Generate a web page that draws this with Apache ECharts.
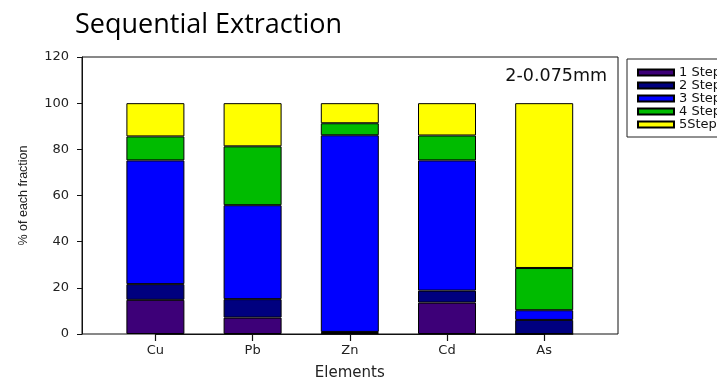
<!DOCTYPE html>
<html>
<head>
<meta charset="utf-8">
<script src="https://cdn.jsdelivr.net/npm/echarts@6/dist/echarts.min.js"></script>
<style>html,body{margin:0;padding:0;background:#fff}#c{width:717px;height:379px}</style>
</head>
<body>
<div id="c"></div>
<script>
var categories = ['Cu', 'Pb', 'Zn', 'Cd', 'As'];
var stepNames = ['1 Step', '2 Step', '3 Step', '4 Step', '5Step'];
var step1 = [14.8, 7.1, 0.5, 13.6, 0];
var step2 = [6.8, 8.0, 0.4, 5.2, 6.1];
var step3 = [53.6, 40.7, 85.2, 56.4, 4.2];
var step4 = [10.4, 25.5, 5.2, 10.8, 18.3];
var step5 = [14.4, 18.7, 8.7, 14.0, 71.4];
var yTicks = [0, 20, 40, 60, 80, 100, 120];
var colors = ['#3d0078', '#00007f', '#0000ff', '#00bb00', '#ffff00'];

var stepData = [step1, step2, step3, step4, step5];
var series = stepData.map(function (d, i) {
  return {
    name: stepNames[i], type: 'bar', stack: 'all', xAxisIndex: 1, yAxisIndex: 1,
    barWidth: 58, data: d,
    itemStyle: { color: colors[i], borderColor: '#000', borderWidth: 1 }
  };
});

var chart = echarts.init(document.getElementById('c'));
chart.setOption({
  animation: false,
  title: [
    { text: 'Sequential Extraction', left: 70, top: 7,
      textStyle: { fontFamily: 'Open Sans', fontSize: 27, fontWeight: 'normal', color: '#000' } },
    { text: '2-0.075mm', right: 105, top: 62,
      textStyle: { fontFamily: 'DejaVu Sans', fontSize: 17.5, fontWeight: 'normal', color: '#111' } }
  ],
  legend: {
    orient: 'vertical', left: 627, top: 59,
    padding: [7, 40, 6, 10], itemGap: 0,
    itemWidth: 36, itemHeight: 6,
    borderColor: '#222', borderWidth: 1,
    icon: 'rect',
    textStyle: { fontFamily: 'DejaVu Sans', fontSize: 13, color: '#111', lineHeight: 12 },
    data: stepNames
  },
  grid: [
    { left: 82, right: 99, top: 57, bottom: 45, show: true, borderColor: '#111', borderWidth: 1,
      containLabel: false, outerBoundsMode: 'none' },
    { left: 155.4, right: 172.8, top: 57, bottom: 45, containLabel: false, outerBoundsMode: 'none' }
  ],
  xAxis: [
    { type: 'category', gridIndex: 0, data: categories, show: false },
    { type: 'category', gridIndex: 1, data: categories, position: 'bottom', boundaryGap: false,
      name: 'Elements', nameLocation: 'middle', nameGap: 32,
      nameTextStyle: { fontFamily: 'DejaVu Sans', fontSize: 15, color: '#222' },
      axisLine: { show: true, onZero: false, lineStyle: { color: '#111' } },
      axisTick: { show: true, interval: 0, length: 7, lineStyle: { color: '#111', width: 1.2 } },
      axisLabel: { fontFamily: 'DejaVu Sans', fontSize: 13, color: '#222', margin: 10 } }
  ],
  yAxis: [
    { type: 'value', gridIndex: 0, min: yTicks[0], max: yTicks[yTicks.length - 1], interval: 20,
      name: '% of each fraction', nameLocation: 'middle', nameGap: 52, nameRotate: 90,
      nameTextStyle: { fontFamily: 'Liberation Sans', fontSize: 12.5, color: '#222' },
      axisLine: { show: true, lineStyle: { color: '#111' } },
      axisTick: { show: true, length: 5, lineStyle: { color: '#111' } },
      splitLine: { show: false },
      axisLabel: { fontFamily: 'DejaVu Sans', fontSize: 13, color: '#222', margin: 13 } },
    { type: 'value', gridIndex: 1, min: 0, max: 120, show: false, splitLine: { show: false } }
  ],
  series: series
});
</script>
</body>
</html>
